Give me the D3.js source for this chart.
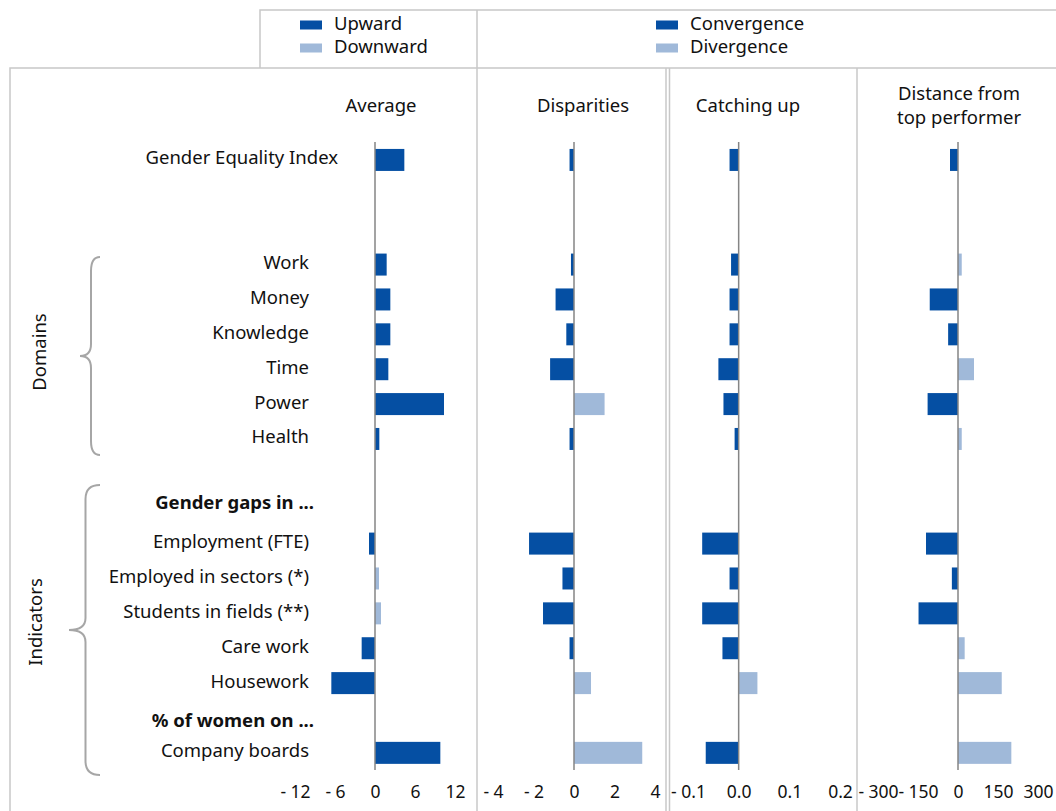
<!DOCTYPE html>
<html>
<head>
<meta charset="utf-8">
<script src="https://cdn.jsdelivr.net/npm/d3@7"></script>
<style>
  body { margin: 0; background: #fff; }
  svg { display: block; font-family: "Noto Sans", sans-serif; }
</style>
</head>
<body>
<svg id="chart" width="1056" height="811"></svg>
<script>
// rows of the category axis (blank strings are spacer rows)
const rowLabels = ["Gender Equality Index", "", "", "Work", "Money", "Knowledge", "Time", "Power", "Health", "",
  "Gender gaps in ...", "Employment (FTE)", "Employed in sectors (*)", "Students in fields (**)", "Care work",
  "Housework", "% of women on ...", "Company boards"];
const boldLabels = ["Gender gaps in ...", "% of women on ..."];

const categories = ["Gender Equality Index", "Work", "Money", "Knowledge", "Time", "Power", "Health",
  "Employment (FTE)", "Employed in sectors (*)", "Students in fields (**)", "Care work", "Housework", "Company boards"];

const average     = [4.4, 1.75, 2.3, 2.3, 2.0, 10.35, 0.65, -0.9, 0.6, 0.9, -2.0, -6.55, 9.8];
const upward      = [true, true, true, true, true, true, true, true, false, false, true, true, true];
const disparities = [-0.22, -0.15, -0.91, -0.38, -1.18, 1.51, -0.22, -2.22, -0.57, -1.53, -0.22, 0.84, 3.37];
const catchingUp  = [-0.018, -0.015, -0.018, -0.018, -0.040, -0.030, -0.008, -0.072, -0.018, -0.072, -0.032, 0.037, -0.065];
const distance    = [-30, 14, -106, -37, 60, -114, 14, -120, -23, -148, 25, 164, 200];

const avgTicks  = [-12, -6, 0, 6, 12];
const dispTicks = [-4, -2, 0, 2, 4];
const catTicks  = [-0.1, 0, 0.1, 0.2];
const distTicks = [-300, -150, 0, 150, 300];

const dark = "#054fa3", light = "#a0b9d9";
const grid = "#c8c8c8";
const fs = 18.5;

const svg = d3.select("#chart");

const y = d3.scaleBand()
  .domain(d3.range(rowLabels.length))
  .range([142.5, 770.3]);
const barH = 22;

function fmt(decimals) {
  return d => {
    const s = d3.format("." + decimals + "f")(Math.abs(d));
    return d < 0 ? "- " + s : s;
  };
}

const panels = [
  { title: ["Average"], cx: 381, values: average, dom: [-12, 12], range: [295, 455], ticks: avgTicks, f: fmt(0),
    colour: (v, i) => upward[i] ? dark : light },
  { title: ["Disparities"], cx: 583, values: disparities, dom: [-4, 4], range: [493, 655], ticks: dispTicks, f: fmt(0),
    colour: v => v < 0 ? dark : light },
  { title: ["Catching up"], cx: 748, values: catchingUp, dom: [-0.1, 0.2], range: [688, 840], ticks: catTicks, f: fmt(1),
    colour: v => v < 0 ? dark : light },
  { title: ["Distance from", "top performer"], cx: 959, values: distance, dom: [-300, 300], range: [878, 1038], ticks: distTicks, f: fmt(0),
    colour: v => v < 0 ? dark : light }
];

// frames
const frame = svg.append("g").attr("fill", "none").attr("stroke", grid).attr("stroke-width", 1.5);
frame.append("path").attr("d", "M260,68 V10 H1060 M477,10 V68");
frame.append("path").attr("d", "M10,811 V68 H1060");
[477, 666, 669.5, 857].forEach(x => frame.append("line").attr("x1", x).attr("x2", x).attr("y1", 68).attr("y2", 811));

// legend
const legends = [
  { x: 300, items: ["Upward", "Downward"] },
  { x: 656, items: ["Convergence", "Divergence"] }
];
legends.forEach(l => {
  l.items.forEach((t, i) => {
    const yy = 25 + i * 23;
    svg.append("rect").attr("x", l.x).attr("y", yy - 4.5).attr("width", 22).attr("height", 9)
      .attr("fill", i === 0 ? dark : light);
    svg.append("text").attr("x", l.x + 34).attr("y", yy - 1).attr("dy", "0.35em")
      .attr("font-size", fs).attr("fill", "#111").text(t);
  });
});

// category labels
svg.append("g").selectAll("text")
  .data(rowLabels.map((t, i) => ({ t, i })).filter(d => d.t))
  .join("text")
  .attr("x", d => d.i === 0 ? 338 : (boldLabels.includes(d.t) ? 314 : 309))
  .attr("y", d => y(d.i) + y.bandwidth() / 2 - (boldLabels.includes(d.t) ? (d.i === 10 ? 6 : -3) : 2))
  .attr("dy", "0.35em")
  .attr("text-anchor", "end")
  .attr("font-size", fs)
  .attr("font-weight", d => boldLabels.includes(d.t) ? "bold" : "normal")
  .attr("fill", "#111")
  .text(d => d.t);

// braces
function brace(x, top, bottom, tipX) {
  const mid = (top + bottom) / 2;
  const xv = (x + tipX) / 2 + 1;
  return `M${x},${top} Q${xv},${top} ${xv},${top + 14} V${mid - 12} Q${xv},${mid} ${tipX},${mid}` +
    ` Q${xv},${mid} ${xv},${mid + 12} V${bottom - 14} Q${xv},${bottom} ${x},${bottom}`;
}
svg.append("path").attr("d", brace(100, 257, 455, 80))
  .attr("fill", "none").attr("stroke", "#a6a6a6").attr("stroke-width", 2);
svg.append("path").attr("d", brace(100, 485, 775, 69))
  .attr("fill", "none").attr("stroke", "#a6a6a6").attr("stroke-width", 2);
svg.append("text").attr("transform", "translate(40,352) rotate(-90)").attr("text-anchor", "middle")
  .attr("dy", "0.35em").attr("font-size", fs).attr("fill", "#111").text("Domains");
svg.append("text").attr("transform", "translate(36,622) rotate(-90)").attr("text-anchor", "middle")
  .attr("dy", "0.35em").attr("font-size", fs).attr("fill", "#111").text("Indicators");

// panels
const rowOf = c => rowLabels.indexOf(c);
panels.forEach(p => {
  const x = d3.scaleLinear().domain(p.dom).range(p.range);
  const g = svg.append("g");

  p.title.forEach((t, i) => {
    g.append("text").attr("x", p.cx).attr("y", (p.title.length === 1 ? 106 : 94) + i * 24)
      .attr("dy", "0.35em").attr("text-anchor", "middle").attr("font-size", fs).attr("fill", "#111").text(t);
  });

  g.selectAll("rect")
    .data(categories.map((c, i) => ({ c, v: p.values[i], i })))
    .join("rect")
    .attr("x", d => x(Math.min(0, d.v)))
    .attr("width", d => Math.abs(x(d.v) - x(0)))
    .attr("y", d => y(rowOf(d.c)) + (y.bandwidth() - barH) / 2)
    .attr("height", barH)
    .attr("fill", d => p.colour(d.v, d.i));

  g.append("line").attr("x1", x(0)).attr("x2", x(0)).attr("y1", 142).attr("y2", 770)
    .attr("stroke", "#858585").attr("stroke-width", 1.5);

  const axis = g.append("g").attr("transform", "translate(0,782)")
    .call(d3.axisBottom(x).tickValues(p.ticks).tickSize(0).tickPadding(0).tickFormat(p.f));
  axis.select(".domain").remove();
  axis.selectAll("text").attr("font-size", 17.5).attr("fill", "#111")
    .attr("font-family", "Noto Sans, sans-serif").attr("dy", "0.35em").attr("y", 10);
});
</script>
</body>
</html>
